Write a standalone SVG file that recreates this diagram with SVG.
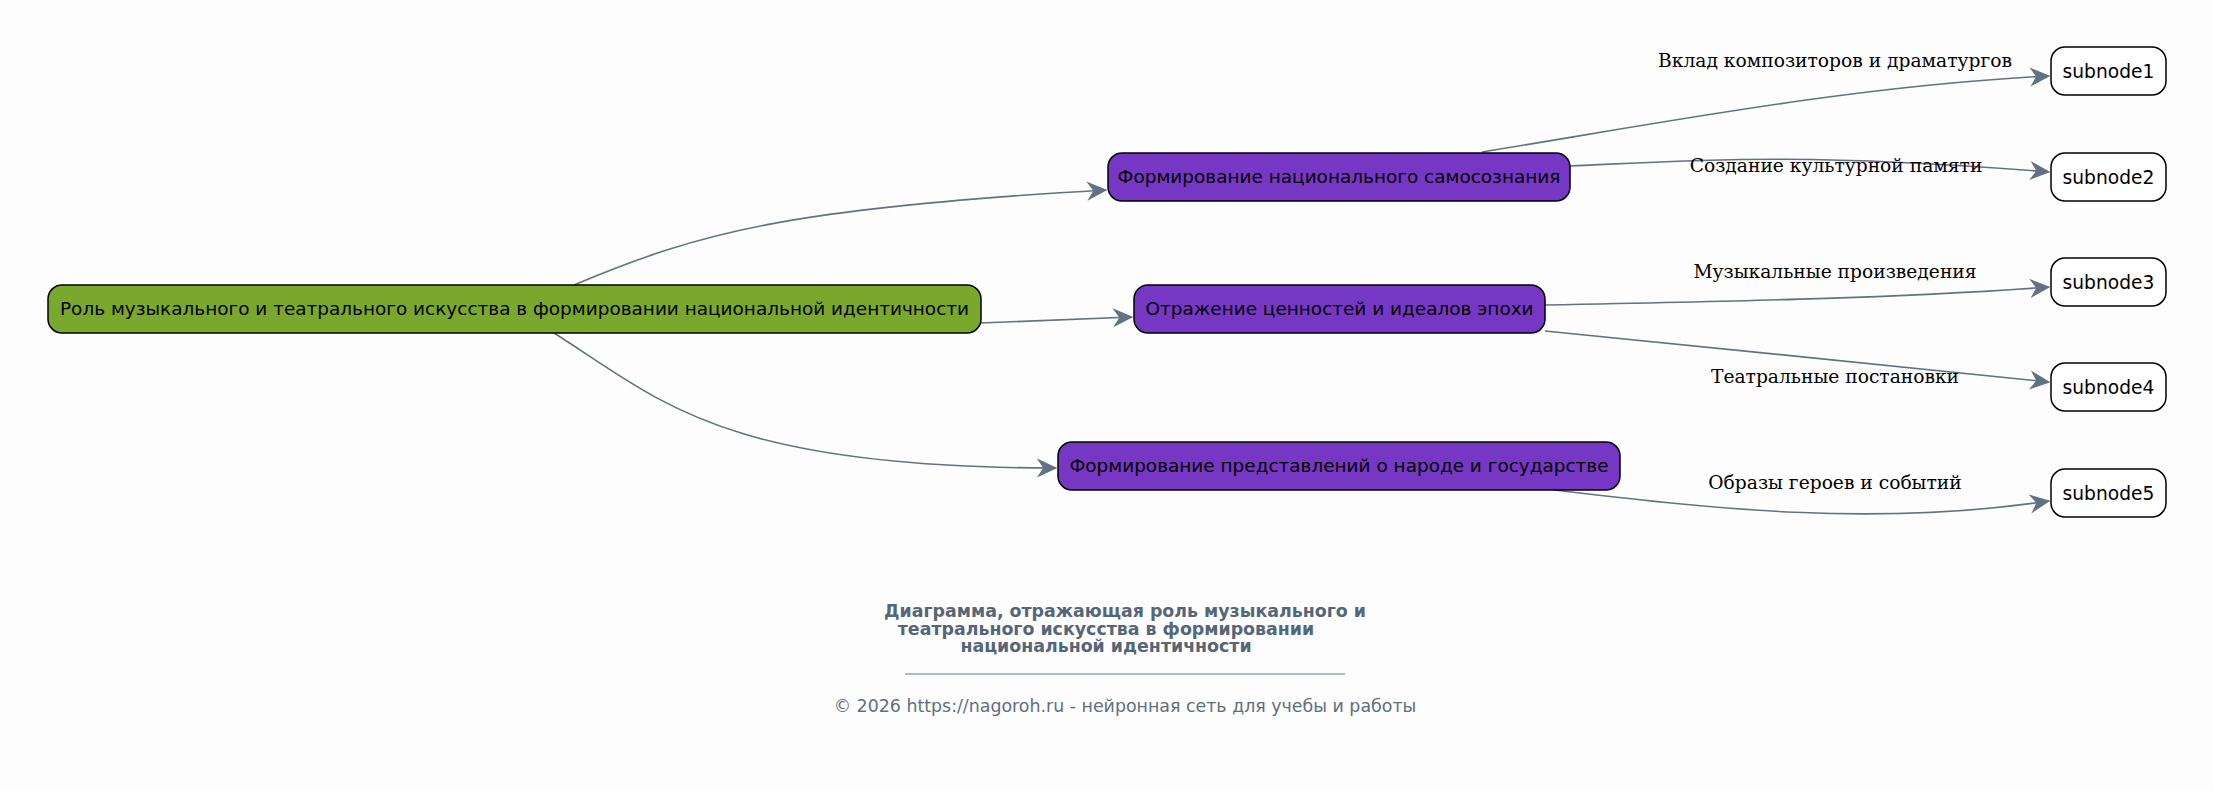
<svg xmlns="http://www.w3.org/2000/svg" width="2213" height="791" viewBox="0 0 2213 791">
<defs>
<style>
.node rect{stroke:#000;stroke-width:1.5}
.root rect{fill:#7aa82c}
.mid rect{fill:#7638c4}
.sub rect{fill:#fff}
.nt{font-family:"DejaVu Sans",sans-serif;font-size:18.45px;fill:#000;text-anchor:middle}
.sub .nt{font-size:18.67px}
.edges path{fill:none;stroke:#627282;stroke-width:1.6}
.el{font-family:"DejaVu Serif",serif;font-size:18.67px;fill:#000;text-anchor:middle}
.title{font-family:"DejaVu Sans",sans-serif;font-size:17.4px;font-weight:bold;fill:#556677;text-anchor:middle}
.foot{font-family:"DejaVu Sans",sans-serif;font-size:17.4px;fill:#5f6f7f;text-anchor:middle}
</style>
<marker id="arr" markerUnits="userSpaceOnUse" markerWidth="22" markerHeight="22" viewBox="-18 -9 20 18" refX="0" refY="0" orient="auto">
<path d="M-16,-7.5 L0,0 L-16,7.5 L-11,0 Z" fill="#627282" stroke="#627282" stroke-width="1" stroke-linejoin="miter"/>
</marker>
</defs>
<rect x="0" y="0" width="2213" height="791" fill="#fdfdfd"/>
<g class="edges">
<path d="M574,285 C700,232 790,208 1106,190" marker-end="url(#arr)"/>
<path d="M981,323 L1132,317" marker-end="url(#arr)"/>
<path d="M554,333 C660,400 720,468 1056,468" marker-end="url(#arr)"/>
<path d="M1482,152 C1650,125 1850,86 2049,76" marker-end="url(#arr)"/>
<path d="M1570,166 C1700,160 1800,152 2049,172" marker-end="url(#arr)"/>
<path d="M1545,305 C1750,301 1900,298 2049,287" marker-end="url(#arr)"/>
<path d="M1545,331 C1700,347 1900,366 2049,382" marker-end="url(#arr)"/>
<path d="M1554,490 C1700,507 1870,528 2049,501" marker-end="url(#arr)"/>
</g>
<g class="labels">
<text class="el" x="1835" y="67">Вклад композиторов и драматургов</text>
<text class="el" x="1836" y="172">Создание культурной памяти</text>
<text class="el" x="1835" y="278">Музыкальные произведения</text>
<text class="el" x="1835" y="383">Театральные постановки</text>
<text class="el" x="1835" y="489">Образы героев и событий</text>
</g>
<g id="root" class="node root">
<rect x="48" y="285" width="933" height="48" rx="14"/>
<text class="nt" x="514.5" y="315">Роль музыкального и театрального искусства в формировании национальной идентичности</text>
</g>
<g id="node1" class="node mid">
<rect x="1108" y="153" width="462" height="48" rx="14"/>
<text class="nt" x="1339" y="183">Формирование национального самосознания</text>
</g>
<g id="node2" class="node mid">
<rect x="1134" y="285" width="411" height="48" rx="14"/>
<text class="nt" x="1339.5" y="315">Отражение ценностей и идеалов эпохи</text>
</g>
<g id="node3" class="node mid">
<rect x="1058" y="442" width="562" height="48" rx="14"/>
<text class="nt" x="1339" y="472">Формирование представлений о народе и государстве</text>
</g>
<g id="subnode1" class="node sub">
<rect x="2051" y="47" width="115" height="48" rx="14"/>
<text class="nt" x="2108.5" y="77.5">subnode1</text>
</g>
<g id="subnode2" class="node sub">
<rect x="2051" y="153" width="115" height="48" rx="14"/>
<text class="nt" x="2108.5" y="183.5">subnode2</text>
</g>
<g id="subnode3" class="node sub">
<rect x="2051" y="258" width="115" height="48" rx="14"/>
<text class="nt" x="2108.5" y="288.5">subnode3</text>
</g>
<g id="subnode4" class="node sub">
<rect x="2051" y="363" width="115" height="48" rx="14"/>
<text class="nt" x="2108.5" y="393.5">subnode4</text>
</g>
<g id="subnode5" class="node sub">
<rect x="2051" y="469" width="115" height="48" rx="14"/>
<text class="nt" x="2108.5" y="499.5">subnode5</text>
</g>
<g id="caption">
<text class="title" x="1125" y="617">Диаграмма, отражающая роль музыкального и</text>
<text class="title" x="1106" y="635">театрального искусства в формировании</text>
<text class="title" x="1106" y="652">национальной идентичности</text>
<line x1="905" y1="674" x2="1345" y2="674" stroke="#667788" stroke-width="1"/>
<text class="foot" x="1125" y="712">© 2026 https://nagoroh.ru - нейронная сеть для учебы и работы</text>
</g>
</svg>
